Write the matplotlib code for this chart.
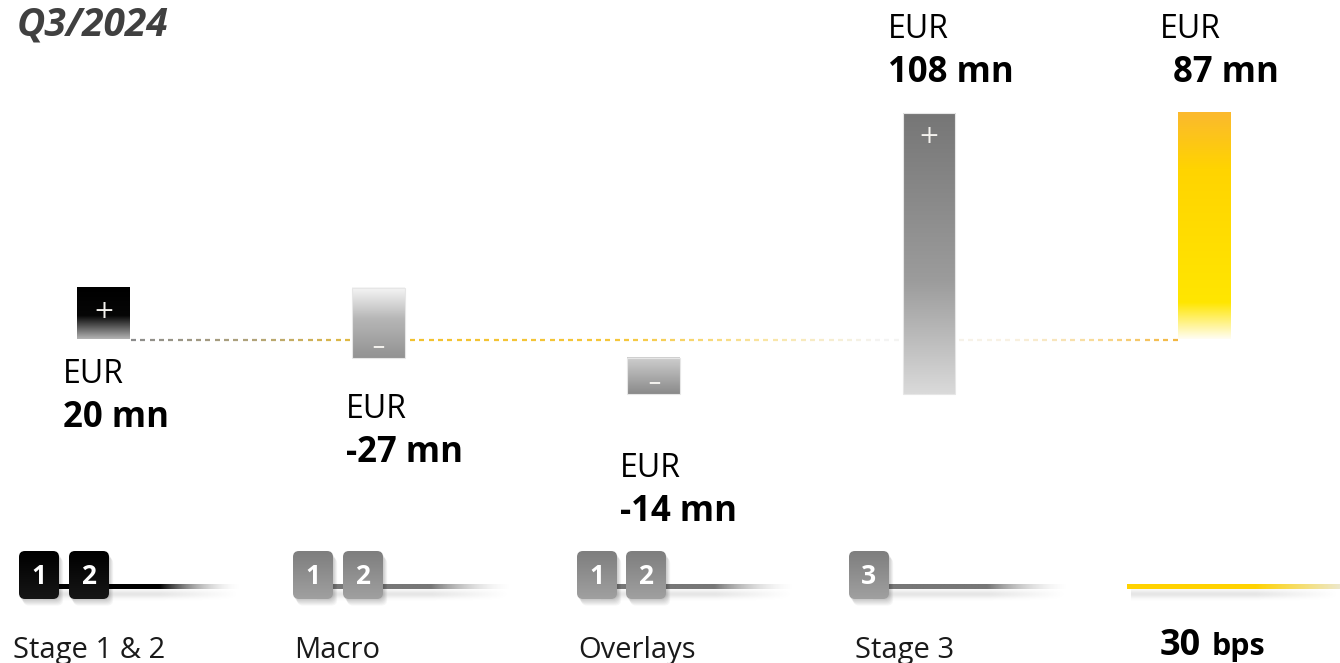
import matplotlib.pyplot as plt
import numpy as np
from matplotlib.colors import LinearSegmentedColormap, to_rgba
from matplotlib.collections import LineCollection
from matplotlib.patches import FancyBboxPatch, Rectangle

plt.rcParams['font.family'] = ['Open Sans', 'DejaVu Sans']

period = "Q3/2024"
categories = ["Stage 1 & 2", "Macro", "Overlays", "Stage 3"]
stages = [["1", "2"], ["1", "2"], ["1", "2"], ["3"]]
changes = [20, -27, -14, 108]
total = 87
total_bps = 30
currency = "EUR"
unit = "mn"

W, H = 1340, 663
fig = plt.figure(figsize=(W / 100, H / 100), dpi=100)
ax = fig.add_axes([0, 0, 1, 1])
deco = fig.add_axes([0, 0, 1, 1])   # overlay in pixel units, y down
deco.set_xlim(0, W)
deco.set_ylim(H, 0)
deco.axis('off')

# waterfall scale: category index -> x, EUR mn -> y
x0_px, step_px = 103.5, 275.1
zero_px, px_per_unit = 339.5, 2.6
bar_w = 52.5 / step_px


def to_x(px):
    return (px - x0_px) / step_px


def vgrad(stops, n=256):
    cmap = LinearSegmentedColormap.from_list('g', stops)
    return cmap(np.linspace(0, 1, n))[:, None, :]


def hgrad(stops, n=256):
    cmap = LinearSegmentedColormap.from_list('g', stops)
    return cmap(np.linspace(0, 1, n))[None, :, :]


bar_fills = [
    [(0, '#000000'), (0.55, '#060606'), (1, '#b4b4b4')],
    [(0, '#f6f6f6'), (0.45, '#b6b6b6'), (1, '#929292')],
    [(0, '#cfcfcf'), (1, '#8a8a8a')],
    [(0, '#767676'), (0.6, '#9c9c9c'), (1, '#dadada')],
]
total_fill = [(0, '#fbb92e'), (0.25, '#ffd400'), (0.84, '#ffe600'), (1, '#fffdf2')]

ends = np.cumsum(changes)
starts = ends - np.array(changes)

for i, (s, e) in enumerate(zip(starts, ends)):
    lo, hi = min(s, e), max(s, e)
    ax.imshow(vgrad(bar_fills[i]), extent=(i - bar_w / 2, i + bar_w / 2, lo, hi),
              aspect='auto', interpolation='bilinear', zorder=3)
    if i > 0:
        ax.add_patch(Rectangle((i - bar_w / 2, lo), bar_w, hi - lo, fill=False,
                               edgecolor='#e6e6e6', lw=0.8, zorder=4))
    if e > s:
        ax.annotate('+', xy=(i, hi), xytext=(0, -23), textcoords='offset pixels',
                    ha='center', va='center', color='#f4f2ee', fontsize=18,
                    family='DejaVu Sans', zorder=5)
    else:
        ax.annotate('\u2212', xy=(i, lo), xytext=(0, 12), textcoords='offset pixels',
                    ha='center', va='center', color='#f4f2ee', fontsize=12,
                    fontweight='bold', family='DejaVu Sans', zorder=5)

n = len(changes)
ax.imshow(vgrad(total_fill), extent=(n - bar_w / 2, n + bar_w / 2, 0, total),
          aspect='auto', interpolation='bilinear', zorder=3)

# dashed zero line, grey -> yellow -> faded -> orange
left_px, right_px = 130, 1178
dash_start = np.arange(left_px + 1, right_px - 3, 9.3)
segs = [[(to_x(a), 0), (to_x(min(a + 5, right_px)), 0)] for a in dash_start]
stop_px = [130, 250, 380, 620, 770, 880, 1010, 1100, 1178]
stop_col = ['#8c8c8c', '#b0a37a', '#f2c12e', '#f5c63a', '#f9e6a8', '#f4f4f4',
            '#f8f1e2', '#f8d890', '#f2b43a']
rgb = np.array([to_rgba(c) for c in stop_col])
cols = np.stack([np.interp(dash_start, stop_px, rgb[:, k]) for k in range(4)], axis=1)
ax.add_collection(LineCollection(segs, colors=cols, linewidths=1.6, zorder=2))

ax.set_xlim(to_x(0), to_x(W))
ax.set_ylim((zero_px - H) / px_per_unit, zero_px / px_per_unit)
ax.axis('off')

# value labels
label_x = [63, 346, 620, 888, 1160]
value_x = [63, 346, 620, 888, 1173]
label_y = [383, 418, 477, 38, 38]
values = list(changes) + [total]
for x, xv, y, v in zip(label_x, value_x, label_y, values):
    deco.text(x, y, currency, fontsize=23, color='black', va='baseline')
    deco.text(xv, y + 44, f"{v} {unit}", fontsize=25, fontweight='bold',
              color='black', va='baseline')

deco.text(17, 35, period, fontsize=28, fontweight='bold', fontstyle='italic',
          color='#404040', va='baseline')

# stage badges and connector lines
badge_x = [[19, 69], [293, 343], [577, 626], [849]]
line_end = [240, 510, 793, 1067]
line_col = ['#000000', '#777777', '#777777', '#777777']
badge_fill = [[(0, '#000000'), (1, '#161616')]] + [[(0, '#7e7e7e'), (1, '#a0a0a0')]] * 3
bw, bh, by = 40, 48, 551
line_y = 587


def fade_line(xs, xe, color, solid, end_col, y=line_y, lw=4.5):
    c = to_rgba(color)
    fill = hgrad([(0, c), (solid, c), (1, end_col)])
    # soft shadow under the line
    sh = np.linspace(-1, 1, 14)
    prof = np.exp(-sh ** 2 * 2.5)[:, None]
    alpha = np.interp(np.linspace(0, 1, 256), [0, solid, 1], [0.10, 0.10, 0])[None, :]
    shadow = np.zeros((14, 256, 4))
    shadow[..., 3] = prof * alpha
    deco.imshow(shadow, extent=(xs + 4, xe, y + 14, y), aspect='auto',
                interpolation='bilinear', zorder=2)
    deco.imshow(fill, extent=(xs, xe, y + lw / 2, y - lw / 2), aspect='auto',
                interpolation='bilinear', zorder=3)


for k, xs in enumerate(badge_x):
    fade_line(xs[0] + bw / 2, line_end[k], line_col[k], 0.6, (0.9, 0.9, 0.9, 0.0))
    for x, lab in zip(xs, stages[k]):
        for d in range(1, 7):
            deco.add_patch(FancyBboxPatch((x + d * 0.7, by + d * 1.1), bw, bh,
                                          boxstyle='round,pad=0,rounding_size=6',
                                          facecolor='black', alpha=0.035,
                                          edgecolor='none', zorder=4))
        box = FancyBboxPatch((x, by), bw, bh, boxstyle='round,pad=0,rounding_size=6',
                             facecolor='none', edgecolor='none', zorder=5)
        deco.add_patch(box)
        im = deco.imshow(vgrad(badge_fill[k]), extent=(x, x + bw, by + bh, by),
                         aspect='auto', interpolation='bilinear', zorder=5)
        im.set_clip_path(box)
        deco.text(x + bw / 2, by + bh / 2 + 1, lab, fontsize=19, fontweight='bold',
                  color='white', ha='center', va='center', zorder=6)

fade_line(1127, W, '#ffd200', 0.6, (0.93, 0.91, 0.8, 1.0), lw=5)

cat_x = [13, 294, 578, 855]
for x, c in zip(cat_x, categories):
    deco.text(x, 658, c, fontsize=21, color='#1a1a1a', va='baseline')

deco.text(1160, 655, f"{total_bps}", fontsize=26, fontweight='bold', color='black',
          va='baseline')
deco.text(1212, 655, "bps", fontsize=22, fontweight='bold', color='black', va='baseline')

deco.set_xlim(0, W)
deco.set_ylim(H, 0)

fig.savefig('out.png', dpi=100)
